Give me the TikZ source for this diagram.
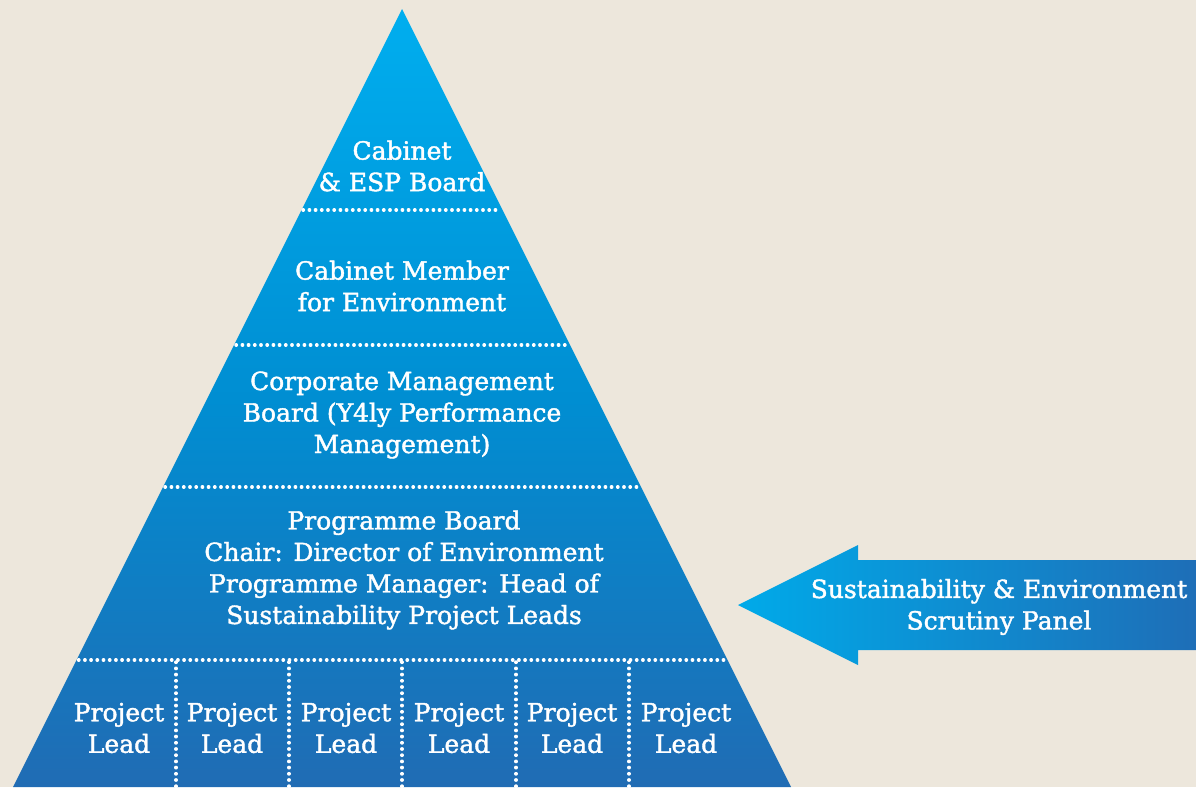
\documentclass[tikz,border=0pt]{standalone}
\usepackage{fontspec}
\setmainfont{DejaVu Serif}
\newfontfamily\lblfont{DejaVu Serif}[FakeBold=1.6]
\definecolor{bg}{RGB}{237,231,220}
\definecolor{pyrtop}{RGB}{0,174,239}
\definecolor{pyrmid}{RGB}{0,142,210}
\definecolor{pyrbot}{RGB}{32,108,180}
\definecolor{arrL}{RGB}{0,170,233}
\definecolor{arrR}{RGB}{30,110,183}
\begin{document}
\begin{tikzpicture}[x=1pt,y=-1pt,
  lbl/.style={text=white,align=center,font=\lblfont\fontsize{25}{31.5}\selectfont,inner sep=0pt},
  dotline/.style={draw=white,line width=3.4pt,line cap=round,dash pattern=on 0.4pt off 5.8pt}]
\useasboundingbox (0,0) rectangle (1196,787);
\fill[bg] (0,0) rectangle (1196,787);
% pyramid
\coordinate (apex) at (402,9);
\coordinate (bl) at (13,787);
\coordinate (br) at (791,787);
\shade[top color=pyrtop,bottom color=pyrbot,middle color=pyrmid] (apex) -- (br) -- (bl) -- cycle;
% level separators
\coordinate (l1a) at (303,210); \coordinate (l1b) at (501,210);
\coordinate (l2a) at (236,345);   \coordinate (l2b) at (568,345);
\coordinate (l3a) at (165,487);   \coordinate (l3b) at (639,487);
\coordinate (l4a) at (78.5,660);  \coordinate (l4b) at (725.5,660);
\draw[dotline] (l1a) -- (l1b);
\draw[dotline] (l2a) -- (l2b);
\draw[dotline] (l3a) -- (l3b);
\draw[dotline] (l4a) -- (l4b);
\foreach \x in {176,289,402,516,629}{
  \draw[dotline] (\x,662) -- (\x,787);
}
% texts
\node[lbl] (cab) at (402,166) {Cabinet\\\& ESP Board};
\node[lbl] (mem) at (402,286) {Cabinet Member\\for Environment};
\node[lbl] (cmb) at (402,415) {Corporate Management\\Board (Y4ly Performance\\Management)};
\node[lbl] (prog) at (404,570) {Programme Board\\Chair: Director of Environment\\Programme Manager: Head of\\Sustainability Project Leads};
\foreach \x/\n in {119/1,232/2,346/3,459/4,572/5,686/6}{
  \node[lbl] (pl\n) at (\x,728) {Project\\Lead};
}
% arrow
\coordinate (tip) at (738,605);
\shade[left color=arrL,right color=arrR] (tip) -- (858,545) -- (858,560) -- (1196,560) -- (1196,650) -- (858,650) -- (858,665) -- cycle;
\node[lbl] (panel) at (999,607) {Sustainability \& Environment\\Scrutiny Panel};
\end{tikzpicture}
\end{document}
